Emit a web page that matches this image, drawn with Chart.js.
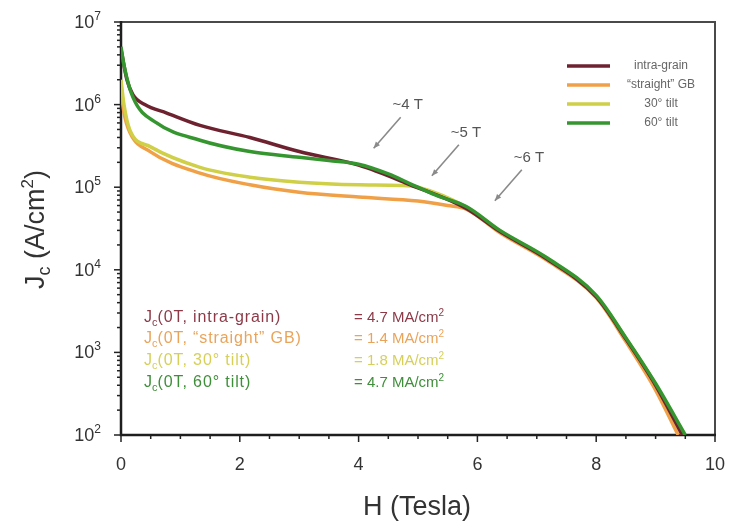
<!DOCTYPE html>
<html><head><meta charset="utf-8">
<script src="https://cdn.jsdelivr.net/npm/chart.js@4/dist/chart.umd.min.js"></script>
<style>html,body{margin:0;padding:0;background:#fff;}canvas{display:block;}</style>
</head><body>
<canvas id="c" width="729" height="532"></canvas>
<script>
// ---- data ----
const seriesNames = ['intra-grain', '\u201Cstraight\u201D GB', '30\u00B0 tilt', '60\u00B0 tilt'];

const H_intra = [0, 0.1, 0.2, 0.4, 0.77, 1.33, 2.17, 3.0, 4.0, 4.87, 5.82, 6.38, 7.17, 8.0, 8.5, 9.0, 9.45];
const J_intra = [4.7e6, 2.0e6, 1.32e6, 1.0e6, 7.9e5, 5.6e5, 4.0e5, 2.7e5, 1.85e5, 1.07e5, 5.5e4, 2.9e4, 1.35e4, 4.7e3, 1.45e3, 400, 100];

const H_straight = [0, 0.05, 0.15, 0.49, 1.33, 2.17, 3.0, 4.0, 5.0, 5.5, 5.82, 6.38, 7.17, 8.0, 8.5, 9.0, 9.38];
const J_straight = [1.5e6, 8.0e5, 4.6e5, 2.7e5, 1.48e5, 1.07e5, 8.7e4, 7.6e4, 6.8e4, 6.0e4, 5.4e4, 2.8e4, 1.3e4, 4.6e3, 1.35e3, 350, 100];

const H_tilt30 = [0, 0.05, 0.15, 0.49, 1.33, 2.17, 3.0, 4.0, 4.7, 5.0, 5.82, 6.38, 7.17, 8.0, 8.5, 9.0, 9.45];
const J_tilt30 = [2.0e6, 1.0e6, 4.9e5, 3.1e5, 1.74e5, 1.32e5, 1.15e5, 1.07e5, 1.05e5, 1.0e5, 5.7e4, 2.95e4, 1.38e4, 4.8e3, 1.48e3, 410, 100];

const H_tilt60 = [0, 0.05, 0.2, 0.6, 1.33, 2.17, 3.0, 3.5, 4.0, 4.5, 4.87, 5.3, 5.82, 6.38, 7.17, 8.0, 8.5, 9.0, 9.5];
const J_tilt60 = [5.0e6, 3.0e6, 1.23e6, 6.0e5, 3.7e5, 2.7e5, 2.3e5, 2.1e5, 1.9e5, 1.45e5, 1.1e5, 8.0e4, 5.8e4, 3.0e4, 1.4e4, 4.9e3, 1.5e3, 420, 100];

const xTicks = [0, 2, 4, 6, 8, 10];
const xMinorStep = 0.5;
const yTicks = [1e2, 1e3, 1e4, 1e5, 1e6, 1e7];
const yTickExp = ['2', '3', '4', '5', '6', '7'];

const jc0Labels = ['intra-grain', '\u201Cstraight\u201D GB', '30\u00B0 tilt', '60\u00B0 tilt'];
const jc0Values = ['4.7', '1.4', '1.8', '4.7'];

const annoText = ['~4 T', '~5 T', '~6 T'];
const annoH = [4.22, 5.2, 6.26];
const annoJ = [2.8e5, 1.3e5, 6.5e4];

// ---- styles ----
const colors = ['#6e2230', '#f0a046', '#cfcf48', '#35962f'];
const textColors = ['#8c3a48', '#eaa45a', '#d6d05a', '#3f8f3a'];
const FONT = '"Liberation Sans", Arial, Helvetica, sans-serif';

function pts(h, j) { return h.map((v, i) => ({ x: v, y: j[i] })); }

function richWidth(ctx, segs) {
  let w = 0;
  segs.forEach(s => { ctx.font = s.sz + 'px ' + FONT; ctx.letterSpacing = s.ls || '0px'; w += ctx.measureText(s.t).width; });
  return w;
}
function drawRich(ctx, segs, x, y, align) {
  const w = richWidth(ctx, segs);
  let cx = align === 'center' ? x - w / 2 : align === 'right' ? x - w : x;
  ctx.textAlign = 'left';
  ctx.textBaseline = 'alphabetic';
  segs.forEach(s => {
    ctx.font = s.sz + 'px ' + FONT;
    ctx.letterSpacing = s.ls || '0px';
    ctx.fillText(s.t, cx, y + (s.dy || 0));
    cx += ctx.measureText(s.t).width;
  });
  ctx.letterSpacing = '0px';
}
function arrow(ctx, x1, y1, x2, y2) {
  ctx.beginPath(); ctx.moveTo(x1, y1); ctx.lineTo(x2, y2); ctx.stroke();
  const a = Math.atan2(y2 - y1, x2 - x1), L = 7;
  ctx.beginPath();
  ctx.moveTo(x2, y2);
  ctx.lineTo(x2 - L * Math.cos(a - 0.4), y2 - L * Math.sin(a - 0.4));
  ctx.lineTo(x2 - L * Math.cos(a + 0.4), y2 - L * Math.sin(a + 0.4));
  ctx.closePath(); ctx.fill();
}

const decor = {
  id: 'decor',
  beforeDatasetsDraw(chart) {
    const ctx = chart.ctx, a = chart.chartArea, xs = chart.scales.x, ys = chart.scales.y;
    ctx.save();
    // frame
    ctx.strokeStyle = '#4a4a4a'; ctx.lineWidth = 2;
    ctx.beginPath(); ctx.moveTo(a.left, a.top); ctx.lineTo(a.right, a.top); ctx.lineTo(a.right, a.bottom); ctx.stroke();
    ctx.strokeStyle = '#1e1e1e'; ctx.lineWidth = 2.5;
    ctx.beginPath(); ctx.moveTo(a.left, a.top - 1); ctx.lineTo(a.left, a.bottom); ctx.lineTo(a.right + 1, a.bottom); ctx.stroke();
    // y ticks
    ctx.lineWidth = 1.5; ctx.strokeStyle = '#222';
    for (let e = 0; e < yTicks.length; e++) {
      const base = yTicks[e];
      const yp = ys.getPixelForValue(base);
      ctx.beginPath(); ctx.moveTo(a.left - 7, yp); ctx.lineTo(a.left, yp); ctx.stroke();
      if (e < yTicks.length - 1) {
        for (let m = 2; m <= 9; m++) {
          const ym = ys.getPixelForValue(base * m);
          ctx.beginPath(); ctx.moveTo(a.left - 4, ym); ctx.lineTo(a.left, ym); ctx.stroke();
        }
      }
    }
    // x ticks
    for (let v = xTicks[0]; v <= xTicks[xTicks.length - 1] + 1e-9; v += xMinorStep) {
      const xp = xs.getPixelForValue(v);
      const major = xTicks.some(t => Math.abs(t - v) < 1e-9);
      ctx.beginPath(); ctx.moveTo(xp, a.bottom); ctx.lineTo(xp, a.bottom + (major ? 7 : 4)); ctx.stroke();
    }
    // tick labels
    ctx.fillStyle = '#333';
    yTicks.forEach((t, i) => {
      const yp = ys.getPixelForValue(t);
      drawRich(ctx, [{ t: '10', sz: 18 }, { t: yTickExp[i], sz: 12, dy: -8 }], 101, yp + 6, 'right');
    });
    ctx.font = '18px ' + FONT; ctx.textAlign = 'center'; ctx.textBaseline = 'middle';
    xTicks.forEach(t => ctx.fillText(String(t), xs.getPixelForValue(t), 465));
    // axis titles
    drawRich(ctx, [{ t: 'H (Tesla)', sz: 27 }], (a.left + a.right) / 2 - 1, 515, 'center');
    ctx.save();
    ctx.translate(44, (a.top + a.bottom) / 2 + 1);
    ctx.rotate(-Math.PI / 2);
    drawRich(ctx, [{ t: 'J', sz: 27 }, { t: 'c', sz: 18, dy: 6 }, { t: ' (A/cm', sz: 27 }, { t: '2', sz: 17, dy: -11 }, { t: ')', sz: 27 }], 0, 0, 'center');
    ctx.restore();
    ctx.restore();
  },
  afterDatasetsDraw(chart) {
    const ctx = chart.ctx, xs = chart.scales.x, ys = chart.scales.y;
    ctx.save();
    // legend
    const ly = [66, 85, 104, 123];
    seriesNames.forEach((n, i) => {
      ctx.strokeStyle = colors[i]; ctx.lineWidth = 3.5;
      ctx.beginPath(); ctx.moveTo(567, ly[i]); ctx.lineTo(610, ly[i]); ctx.stroke();
      ctx.fillStyle = '#666'; ctx.font = '12px ' + FONT; ctx.textAlign = 'center'; ctx.textBaseline = 'middle';
      ctx.fillText(n, 661, ly[i]);
    });
    // annotations
    ctx.strokeStyle = '#8a8a8a'; ctx.fillStyle = '#8a8a8a'; ctx.lineWidth = 1.6;
    annoText.forEach((t, i) => {
      const tx = xs.getPixelForValue(annoH[i]), ty = ys.getPixelForValue(annoJ[i]);
      arrow(ctx, tx + 29, ty - 33, tx + 2, ty - 2);
      ctx.fillStyle = '#555';
      ctx.font = '15px ' + FONT; ctx.textAlign = 'center'; ctx.textBaseline = 'middle';
      ctx.fillText(t, tx + 36, ty - 45);
      ctx.fillStyle = '#8a8a8a';
    });
    // Jc(0T) block
    const ry = [322, 343, 365, 387];
    jc0Labels.forEach((l, i) => {
      ctx.fillStyle = textColors[i];
      drawRich(ctx, [{ t: 'J', sz: 16 }, { t: 'c', sz: 11, dy: 4 }, { t: '(0T, ' + l + ')', sz: 16, ls: '0.9px' }], 144, ry[i], 'left');
      drawRich(ctx, [{ t: '= ' + jc0Values[i] + ' MA/cm', sz: 15 }, { t: '2', sz: 10, dy: -6 }], 354, ry[i], 'left');
    });
    ctx.restore();
  }
};

const ds = [
  { label: seriesNames[0], data: pts(H_intra, J_intra), borderColor: colors[0], order: 1 },
  { label: seriesNames[1], data: pts(H_straight, J_straight), borderColor: colors[1], order: 3 },
  { label: seriesNames[2], data: pts(H_tilt30, J_tilt30), borderColor: colors[2], order: 2 },
  { label: seriesNames[3], data: pts(H_tilt60, J_tilt60), borderColor: colors[3], order: 0 }
].map(d => Object.assign(d, { borderWidth: 3.5, pointRadius: 0, fill: false, cubicInterpolationMode: 'monotone' }));

new Chart(document.getElementById('c'), {
  type: 'line',
  data: { datasets: ds },
  options: {
    responsive: false, animation: false, devicePixelRatio: 1,
    layout: { padding: { left: 121, top: 22, right: 14, bottom: 97 } },
    plugins: { legend: { display: false }, tooltip: { enabled: false } },
    scales: {
      x: { type: 'linear', min: 0, max: 10, display: false },
      y: { type: 'logarithmic', min: 100, max: 1e7, display: false }
    }
  },
  plugins: [decor]
});
</script>
</body></html>
